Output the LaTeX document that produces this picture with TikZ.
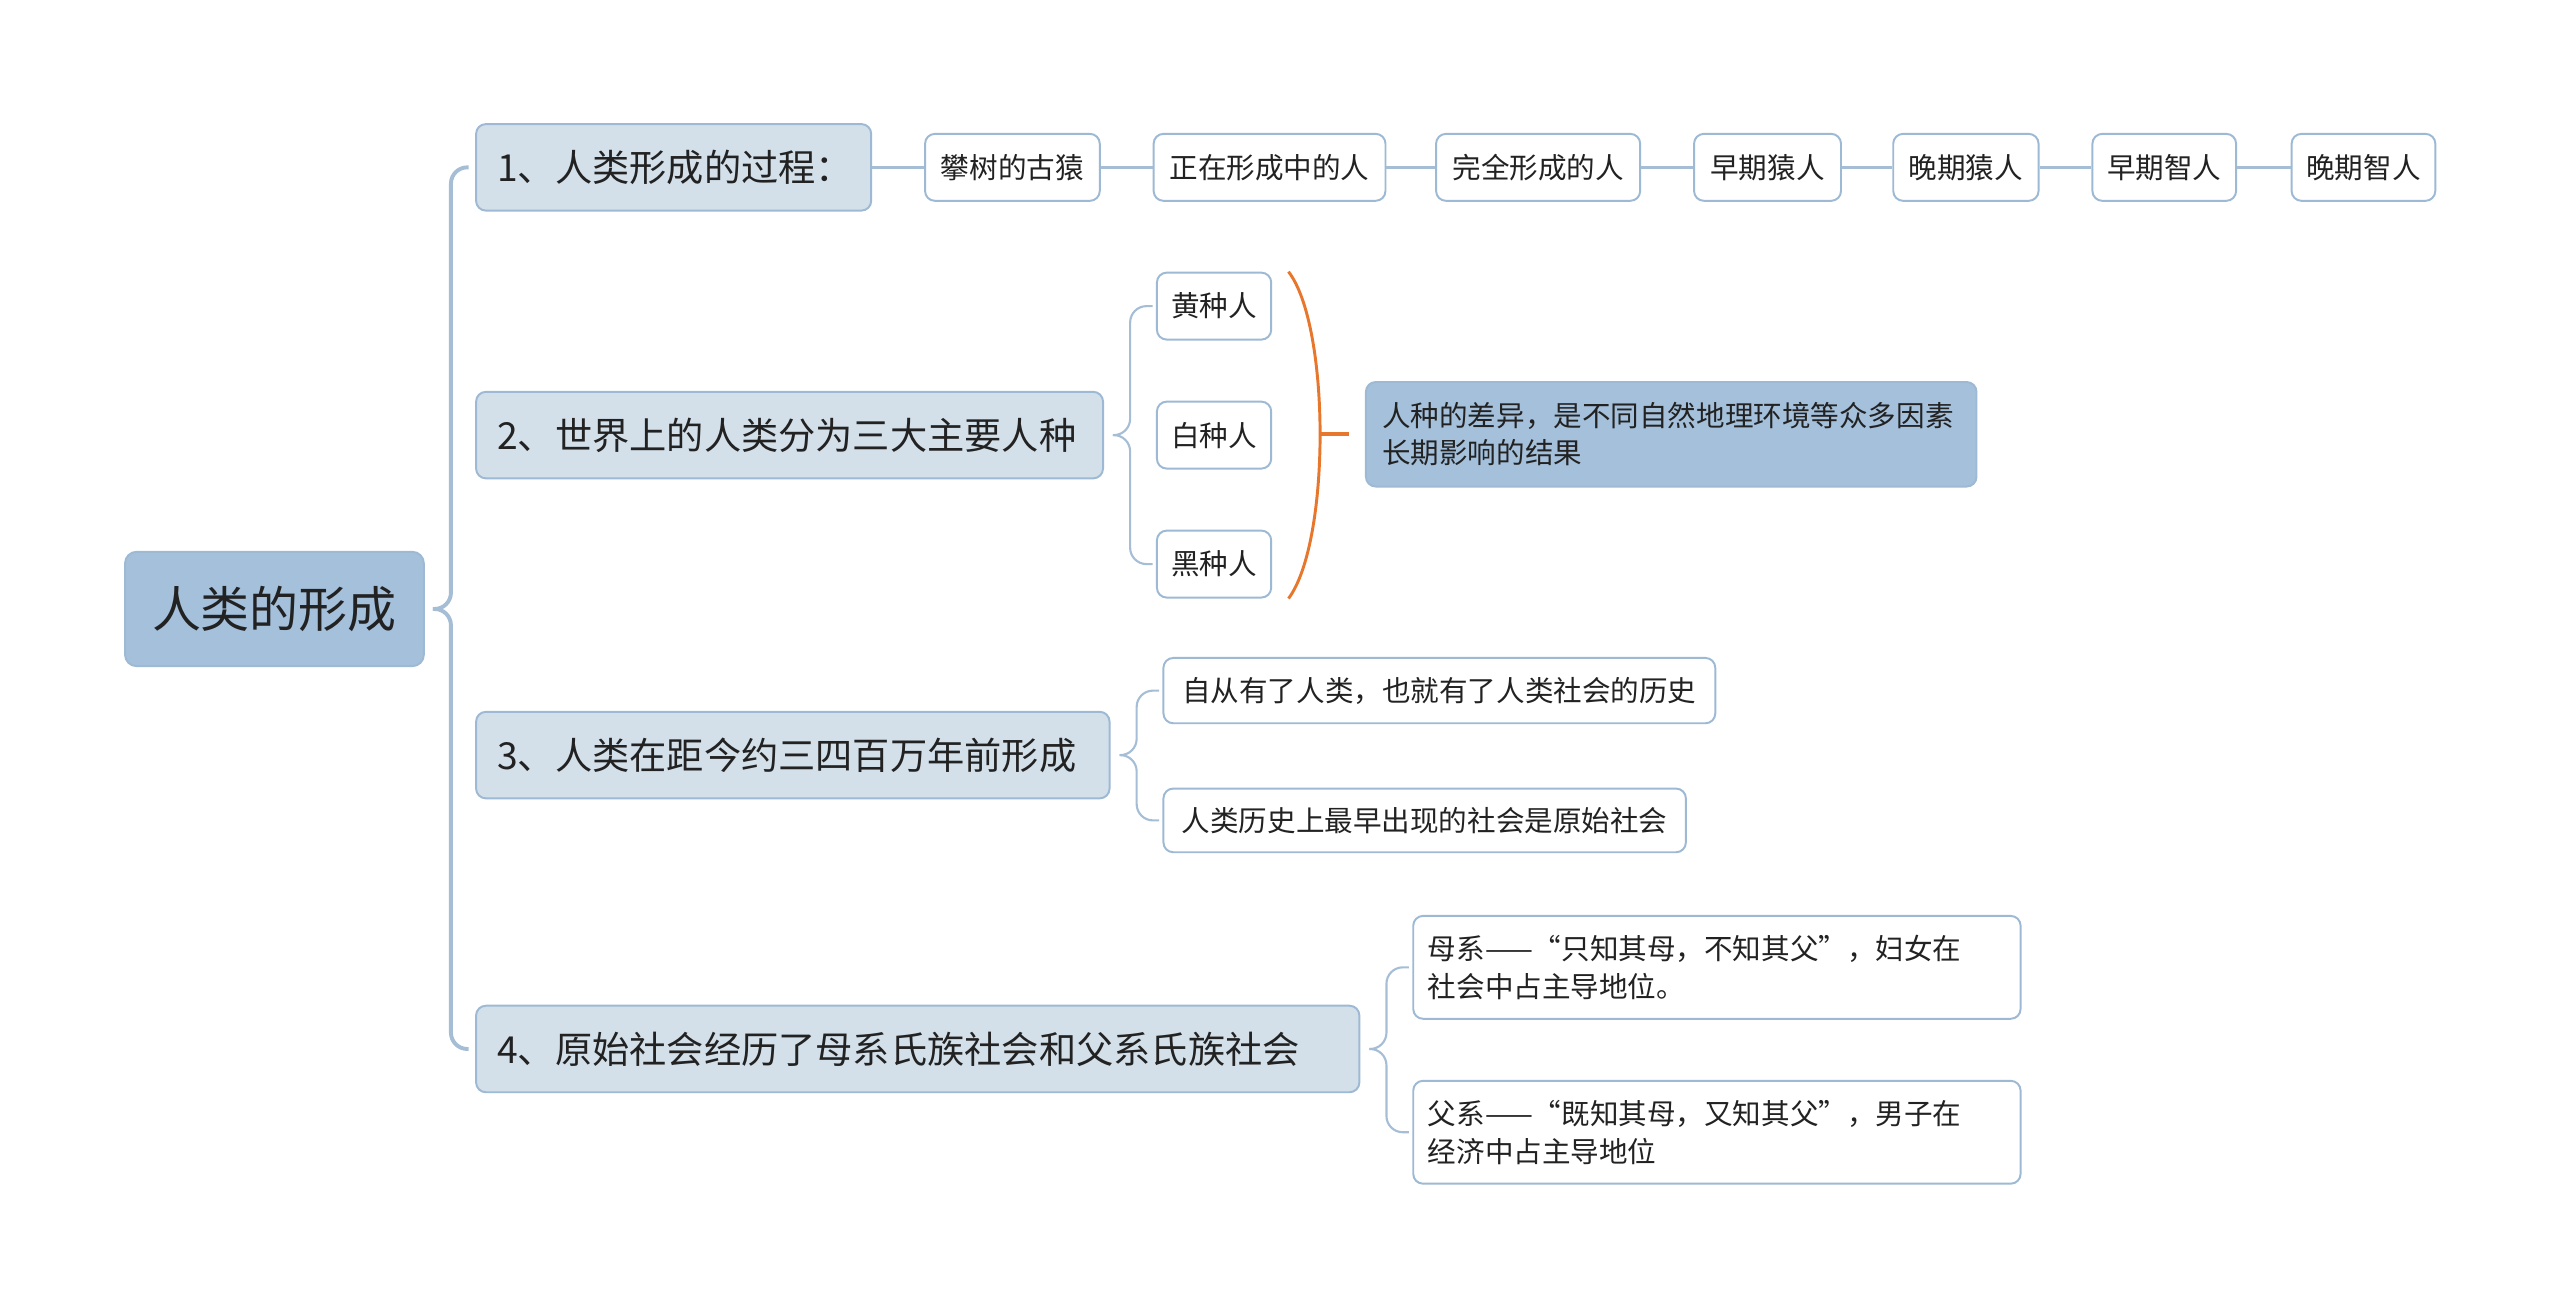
\documentclass[tikz,border=0pt]{standalone}
\usepackage{fontspec}
\setmainfont{Noto Sans CJK SC}
\definecolor{rootfill}{HTML}{A4C0DB}
\definecolor{branchfill}{HTML}{D3E0EA}
\definecolor{boxline}{HTML}{9DB9D3}
\definecolor{linkcol}{HTML}{A5BED6}
\definecolor{bowcol}{HTML}{E8772E}
\definecolor{txt}{HTML}{222222}
\begin{document}
\begin{tikzpicture}[x=1pt,y=-1pt,
    every node/.style={text=txt, anchor=west},
    root/.style={draw=boxline, line width=1.2pt, fill=rootfill, rounded corners=7pt,
      minimum height=70pt, font=\fontsize{30}{36}\selectfont},
    branch/.style={draw=boxline, line width=1.2pt, fill=branchfill, rounded corners=6pt,
      minimum height=53pt, align=left, inner xsep=13pt, font=\fontsize{22.8}{28}\selectfont},
    leaf/.style={draw=boxline, line width=1.2pt, fill=white, rounded corners=6pt,
      minimum height=41pt, font=\fontsize{17.5}{23}\selectfont},
    note/.style={leaf, align=left, inner xsep=9pt, minimum height=63pt},
    link/.style={draw=linkcol, line width=1.3pt, rounded corners=10pt},
    trunk/.style={link, line width=2.4pt},
    chain/.style={draw=linkcol, line width=2.2pt},
    bow/.style={draw=bowcol, line width=1.8pt}]
    \useasboundingbox (0,0) rectangle (1568,802);

    \node[root, minimum width=183pt] (root) at (76,373) {人类的形成};

    \node[branch, text width=216pt] (b1) at (291,102.5) {1、人类形成的过程：};
    \node[leaf, minimum width=107pt] (c1) at (566,102.5) {攀树的古猿};
    \node[leaf, minimum width=142pt] (c2) at (706,102.5) {正在形成中的人};
    \node[leaf, minimum width=125pt] (c3) at (879,102.5) {完全形成的人};
    \node[leaf, minimum width=90pt] (c4) at (1037,102.5) {早期猿人};
    \node[leaf, minimum width=89pt] (c5) at (1159,102.5) {晚期猿人};
    \node[leaf, minimum width=88pt] (c6) at (1281,102.5) {早期智人};
    \node[leaf, minimum width=88pt] (c7) at (1403,102.5) {晚期智人};

    \node[branch, text width=358pt] (b2) at (291,266.5) {2、世界上的人类分为三大主要人种};
    \node[leaf, minimum width=70pt] (r1) at (708,187.5) {黄种人};
    \node[leaf, minimum width=70pt] (r2) at (708,266.5) {白种人};
    \node[leaf, minimum width=70pt] (r3) at (708,345.5) {黑种人};
    \node[note, fill=rootfill, text width=354pt, inner xsep=10pt, minimum height=64pt] (diff) at (836,266)
      {人种的差异，是不同自然地理环境等众多因素\\长期影响的结果};

    \node[branch, text width=362pt] (b3) at (291,462.5) {3、人类在距今约三四百万年前形成};
    \node[leaf, minimum width=338pt, minimum height=40pt] (h1) at (712,423) {自从有了人类，也就有了人类社会的历史};
    \node[leaf, minimum width=320pt, minimum height=39pt] (h2) at (712,502.5) {人类历史上最早出现的社会是原始社会};

    \node[branch, text width=515pt] (b4) at (291,642.5) {4、原始社会经历了母系氏族社会和父系氏族社会};
    \node[note, text width=354pt] (s1) at (865,592.5) {母系——“只知其母，不知其父”，妇女在\\社会中占主导地位。};
    \node[note, text width=354pt] (s2) at (865,693.5) {父系——“既知其母，又知其父”，男子在\\经济中占主导地位};

    \coordinate (rtip) at ([xshift=5pt]root.east);
    \coordinate (rbar) at ([xshift=16pt]root.east);
    \draw[trunk] (rtip) -- (rbar) |- ([xshift=-4pt]b1.west);
    \draw[trunk] (rtip) -- (rbar) |- ([xshift=-4pt]b4.west);

    \foreach \a/\b in {b1/c1,c1/c2,c2/c3,c3/c4,c4/c5,c5/c6,c6/c7}
      \draw[chain] (\a.east) -- (\b.west);

    \coordinate (tip2) at ([xshift=5.5pt]b2.east);
    \coordinate (bar2) at ([xshift=16pt]b2.east);
    \draw[link] (tip2) -- (bar2) |- ([xshift=-2pt]r1.west);
    \draw[link] (tip2) -- (bar2) |- ([xshift=-2pt]r3.west);

    \coordinate (bowtop) at ([xshift=10pt]r1.north east);
    \coordinate (bowbot) at ([xshift=10pt]r3.south east);
    \coordinate (bowmid) at (808,266);
    \draw[bow] (bowtop) .. controls (815,200) and (815,332) .. (bowbot);
    \draw[bow, line width=2.6pt] (bowmid) -- ([xshift=-10pt]diff.west);

    \coordinate (tip3) at ([xshift=5.5pt]b3.east);
    \coordinate (bar3) at ([xshift=16pt]b3.east);
    \draw[link] (tip3) -- (bar3) |- ([xshift=-2pt]h1.west);
    \draw[link] (tip3) -- (bar3) |- ([xshift=-2pt]h2.west);

    \coordinate (tip4) at ([xshift=5.5pt]b4.east);
    \coordinate (bar4) at ([xshift=16pt]b4.east);
    \draw[link] (tip4) -- (bar4) |- ([xshift=-2pt]s1.west);
    \draw[link] (tip4) -- (bar4) |- ([xshift=-2pt]s2.west);
\end{tikzpicture}
\end{document}
